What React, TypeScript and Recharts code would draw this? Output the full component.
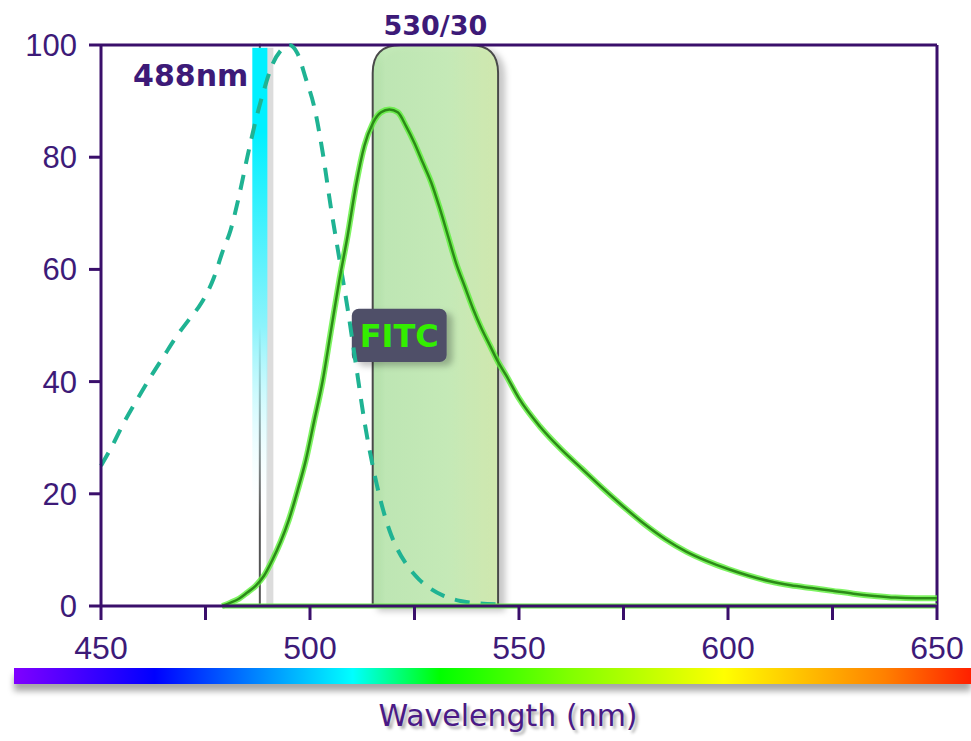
import {
  Line,
  LineChart,
  ReferenceArea,
  ReferenceLine,
  XAxis,
  YAxis,
} from "recharts";

// FITC excitation (dashed) — wavelength nm / relative %
const exNm = [450, 453, 455, 458, 462, 465, 468, 471, 474, 477, 479, 481, 483, 485, 487, 489, 491, 493, 495, 497, 499, 501, 503, 505, 507, 509, 511, 513, 515, 517, 519, 521, 523, 526, 529, 532, 536, 540, 545];
const exVal = [25, 29, 32, 36, 41, 44.5, 48, 51, 54, 58.5, 63, 67, 73, 80, 86.5, 92, 96.5, 99, 100, 98.5, 94, 89, 81, 71, 62, 53, 43, 33, 25, 18.5, 13.5, 10, 7.5, 4.8, 3, 1.8, 0.9, 0.5, 0.3];

// FITC emission (solid)
const emNm = [479, 481, 483, 485, 487, 489, 491, 493, 495, 497, 499, 501, 503, 505, 507, 509, 511, 513, 515, 517, 519, 521, 523, 525, 527, 529, 531, 533, 535, 537, 539, 541, 543, 545, 547, 550, 555, 560, 565, 570, 575, 580, 585, 590, 595, 600, 605, 610, 615, 620, 625, 630, 635, 640, 645, 650];
const emVal = [0, 0.6, 1.3, 2.4, 3.6, 5.4, 8.2, 11.5, 15.5, 20.5, 26, 33, 40, 49, 58, 66, 75, 82, 86, 88, 88.5, 88, 85.5, 82.5, 79, 75.5, 71, 66, 61, 57, 53, 49.5, 46.5, 43.5, 41, 37, 32, 28, 24.5, 21, 17.7, 14.6, 11.9, 9.7, 8, 6.6, 5.4, 4.4, 3.7, 3.2, 2.7, 2.2, 1.8, 1.5, 1.4, 1.4];

const xTicks = [450, 475, 500, 525, 550, 575, 600, 625, 650];
const yTicks = [0, 20, 40, 60, 80, 100];

const laserNm = 488;
const laserLabel = "488nm";
const filterCenter = 530;
const filterWidth = 30;
const filterLabel = "530/30";
const dyeLabel = "FITC";

const excitation = exNm.map((nm, i) => ({ nm, v: exVal[i] }));
const emission = emNm.map((nm, i) => ({ nm, v: emVal[i] }));

const PURPLE = "#3a0f6b";
const TEXT = "#3d1a78";
const TICK_FONT = "'Liberation Sans', Arial, sans-serif";
const BOLD_FONT = "'DejaVu Sans', Verdana, sans-serif";

function FilterBand(props: any) {
  const { x, y, width, height } = props;
  const r = 28;
  const d = `M${x},${y + height} L${x},${y + r} Q${x},${y} ${x + r},${y} L${x + width - r},${y} Q${x + width},${y} ${x + width},${y + r} L${x + width},${y + height} Z`;
  return (
    <g>
      <path d={d} fill="url(#bandFill)" stroke="#4a4a4a" strokeWidth={2} filter="url(#softShadow)" fillOpacity={0.85} />
      <text
        x={x + width / 2}
        y={y - 10}
        textAnchor="middle"
        fontFamily={BOLD_FONT}
        fontWeight="bold"
        fontSize={27}
        fill={TEXT}
      >
        {filterLabel}
      </text>
    </g>
  );
}

function LaserBar(props: any) {
  const { x, y, width, height } = props;
  const cx = x + width / 2;
  return (
    <g>
      <rect x={x + width - 1} y={y} width={7} height={height} fill="#dcdcdc" />
      <line x1={cx} y1={y - 4} x2={cx} y2={y + height} stroke="#555" strokeWidth={2} />
      <rect x={x} y={y} width={width} height={height} fill="url(#laserFill)" />
      <text
        x={x - 4}
        y={y + 38}
        textAnchor="end"
        fontFamily={BOLD_FONT}
        fontWeight="bold"
        fontSize={30}
        fill={TEXT}
      >
        {laserLabel}
      </text>
    </g>
  );
}

function DyeTag(props: any) {
  const { x, y, width, height } = props;
  return (
    <g>
      <rect x={x} y={y} width={width} height={height} rx={7} fill="#4f4f68" filter="url(#softShadow)" />
      <text
        x={x + width / 2}
        y={y + height / 2 + 12}
        textAnchor="middle"
        fontFamily={BOLD_FONT}
        fontWeight="bold"
        fontSize={32}
        fill="#33ee00"
      >
        {dyeLabel}
      </text>
    </g>
  );
}

export default function App() {
  return (
    <div style={{ position: "relative", width: 971, height: 741, background: "#fff" }}>
      <style>{`body{margin:0}`}</style>
      <LineChart
        width={971}
        height={741}
        margin={{ top: 45, right: 34, left: 21, bottom: 75 }}
      >
        <defs>
          <linearGradient id="bandFill" x1="0" y1="0" x2="1" y2="0">
            <stop offset="0%" stopColor="#a6dc9c" />
            <stop offset="10%" stopColor="#b8e6ac" />
            <stop offset="60%" stopColor="#c0eab0" />
            <stop offset="100%" stopColor="#cde8a6" />
          </linearGradient>
          <linearGradient id="laserFill" x1="0" y1="0" x2="0" y2="1">
            <stop offset="0%" stopColor="#00f0ff" />
            <stop offset="15%" stopColor="#00f0ff" />
            <stop offset="50%" stopColor="#8cf3fb" />
            <stop offset="85%" stopColor="#ffffff" stopOpacity={0} />
            <stop offset="100%" stopColor="#ffffff" stopOpacity={0} />
          </linearGradient>
          <filter id="softShadow" x="-20%" y="-20%" width="150%" height="150%">
            <feDropShadow dx={6} dy={4} stdDeviation={3} floodColor="#000" floodOpacity={0.25} />
          </filter>
        </defs>
        <XAxis
          dataKey="nm"
          type="number"
          domain={[450, 650]}
          ticks={xTicks}
          interval={0}
          height={60}
          allowDuplicatedCategory={false}
          axisLine={{ stroke: PURPLE, strokeWidth: 3 }}
          tickLine={{ stroke: PURPLE, strokeWidth: 3 }}
          tickSize={14}
          tickMargin={16}
          tick={{ fill: TEXT, fontSize: 32, fontFamily: TICK_FONT }}
          tickFormatter={(v: number) => (v % 50 === 0 ? String(v) : "")}
        />
        <YAxis
          type="number"
          domain={[0, 100]}
          ticks={yTicks}
          width={80}
          axisLine={{ stroke: PURPLE, strokeWidth: 3 }}
          tickLine={{ stroke: PURPLE, strokeWidth: 3 }}
          tickSize={12}
          tickMargin={12}
          tick={{ fill: TEXT, fontSize: 31, fontFamily: TICK_FONT }}
        />
        <ReferenceLine y={100} stroke={PURPLE} strokeWidth={3} />
        <ReferenceLine x={650} stroke={PURPLE} strokeWidth={3} />
        <ReferenceArea
          x1={filterCenter - filterWidth / 2}
          x2={filterCenter + filterWidth / 2}
          y1={0}
          y2={100}
          shape={(p: any) => <FilterBand {...p} />}
        />
        <Line
          data={excitation}
          dataKey="v"
          type="monotone"
          stroke="#1fb393"
          strokeWidth={4}
          strokeDasharray="15 11"
          dot={false}
          isAnimationActive={false}
        />
        <ReferenceArea
          x1={laserNm - 1.8}
          x2={laserNm + 1.8}
          y1={0}
          y2={99.5}
          shape={(p: any) => <LaserBar {...p} />}
        />
        <ReferenceLine
          segment={[{ x: 479, y: 0 }, { x: 650, y: 0 }]}
          stroke="#66ee44"
          strokeWidth={5}
        />
        <Line
          data={emission}
          dataKey="v"
          type="monotone"
          stroke="#5cf03a"
          strokeWidth={6}
          strokeOpacity={0.8}
          dot={false}
          isAnimationActive={false}
        />
        <Line
          data={emission}
          dataKey="v"
          type="monotone"
          stroke="#2c8a18"
          strokeWidth={2.5}
          dot={false}
          isAnimationActive={false}
        />
        <ReferenceArea
          x1={510}
          x2={532.7}
          y1={43.5}
          y2={53}
          shape={(p: any) => <DyeTag {...p} />}
        />
      </LineChart>
      <div
        style={{
          position: "absolute",
          left: 14,
          top: 668,
          width: 957,
          height: 16,
          background:
            "linear-gradient(to right, #8000ff 0%, #0000ff 14.7%, #0080ff 25%, #00ffff 35.4%, #00ff00 44.5%, #80ff00 58%, #ffff00 74.2%, #ff8000 91%, #ff2000 100%)",
          boxShadow: "0 7px 6px rgba(0,0,0,0.35)",
        }}
      />
      <div
        style={{
          position: "absolute",
          left: 308,
          width: 400,
          top: 698,
          textAlign: "center",
          fontFamily: BOLD_FONT,
          fontSize: 30,
          color: "#4a1a86",
          textShadow: "3px 3px 3px rgba(0,0,0,0.3)",
        }}
      >
        Wavelength (nm)
      </div>
    </div>
  );
}
